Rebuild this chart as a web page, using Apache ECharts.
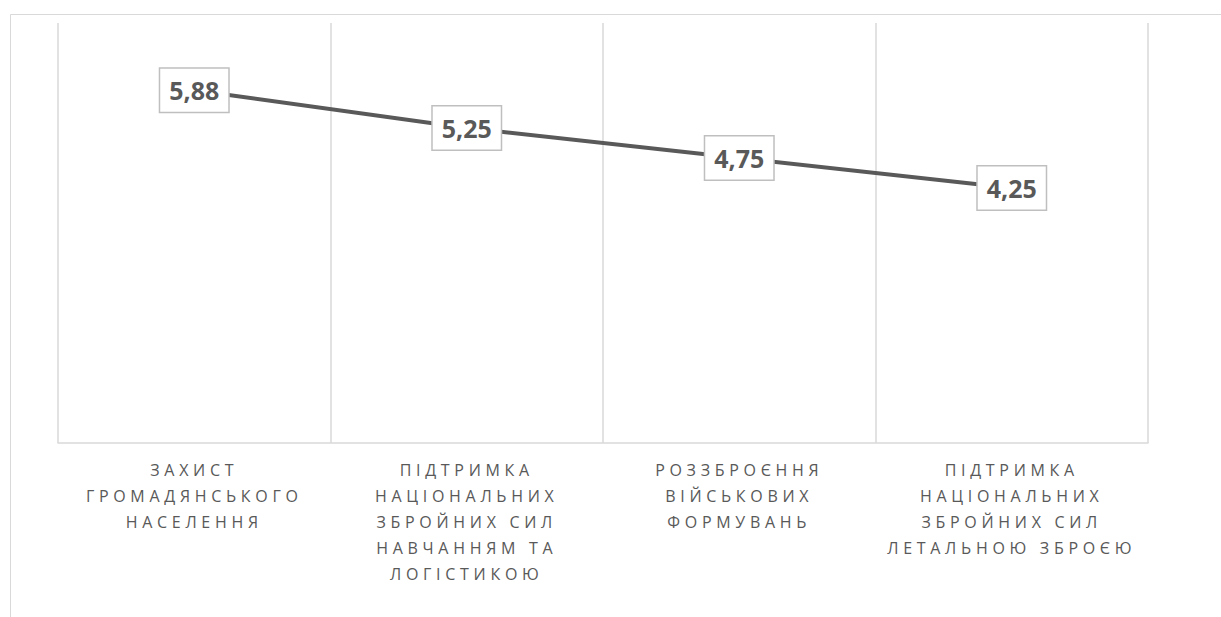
<!DOCTYPE html>
<html>
<head>
<meta charset="utf-8">
<script src="https://cdn.jsdelivr.net/npm/echarts@6/dist/echarts.min.js"></script>
<style>
  html, body { margin: 0; padding: 0; background: #fff; }
  #chart { width: 1221px; height: 617px; }
  /* category labels are spaced out like the original */
  #chart text { letter-spacing: 4.7px; }
  #chart text[style*="bold"] { letter-spacing: 0; }
</style>
</head>
<body>
<div id="chart"></div>
<script>
const categories = [
  'ЗАХИСТ\nГРОМАДЯНСЬКОГО\nНАСЕЛЕННЯ',
  'ПІДТРИМКА\nНАЦІОНАЛЬНИХ\nЗБРОЙНИХ СИЛ\nНАВЧАННЯМ ТА\nЛОГІСТИКОЮ',
  'РОЗЗБРОЄННЯ\nВІЙСЬКОВИХ\nФОРМУВАНЬ',
  'ПІДТРИМКА\nНАЦІОНАЛЬНИХ\nЗБРОЙНИХ СИЛ\nЛЕТАЛЬНОЮ ЗБРОЄЮ'
]
const values = [5.88, 5.25, 4.75, 4.25]

const gridColor = '#d9d9d9'
const textColor = '#595959'

const myChart = echarts.init(document.getElementById('chart'), null, { renderer: 'svg' })

myChart.setOption({
  animation: false,
  graphic: [
    {
      type: 'rect',
      left: 8,
      top: 12,
      shape: { width: 1400, height: 800 },
      style: { fill: 'none', stroke: gridColor, lineWidth: 1 },
      silent: true
    }
  ],
  grid: { left: 58, right: 73, top: 23, bottom: 174 },
  xAxis: {
    type: 'category',
    data: categories,
    boundaryGap: true,
    axisLine: { show: true, lineStyle: { color: gridColor, width: 1.5 } },
    axisTick: { show: false },
    splitLine: { show: true, lineStyle: { color: gridColor, width: 1.5 } },
    axisLabel: {
      interval: 0,
      margin: 14,
      color: textColor,
      fontFamily: 'Open Sans',
      fontSize: 16,
      lineHeight: 26
    }
  },
  yAxis: {
    type: 'value',
    min: 0,
    max: 7,
    show: false,
    splitLine: { show: false }
  },
  series: [
    {
      type: 'line',
      data: values,
      symbol: 'circle',
      symbolSize: 2,
      itemStyle: { color: textColor },
      lineStyle: { color: textColor, width: 4 },
      label: {
        show: true,
        position: 'inside',
        formatter: (p) => p.value.toFixed(2).replace('.', ','),
        color: textColor,
        fontFamily: 'Open Sans',
        fontWeight: 'bold',
        fontSize: 25,
        backgroundColor: '#fff',
        borderColor: '#bfbfbf',
        borderWidth: 1.5,
        padding: [9, 9]
      }
    }
  ]
})
</script>
</body>
</html>
